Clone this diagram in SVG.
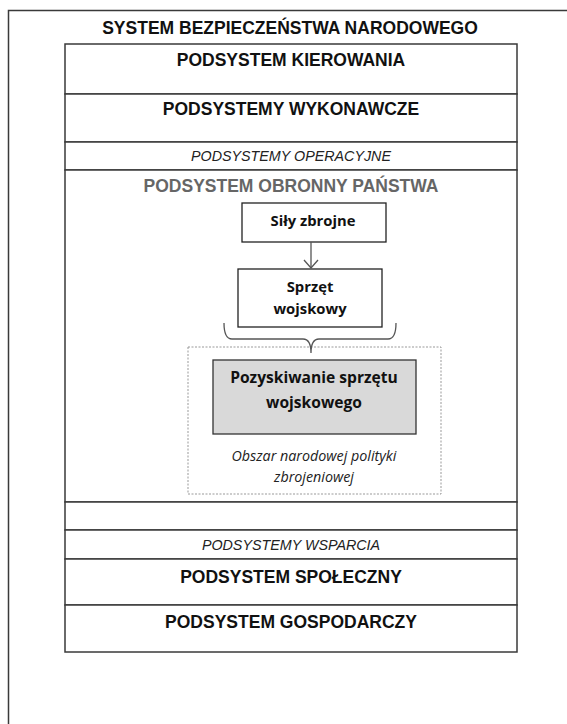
<svg xmlns="http://www.w3.org/2000/svg" width="567" height="724" viewBox="0 0 567 724">
<style>
.frame{fill:none;stroke:#3a3a3a;stroke-width:1.5}
.row{fill:#fff;stroke:#3a3a3a;stroke-width:1.5}
.box{fill:#fff;stroke:#222;stroke-width:1.3}
.hd{font-family:"Liberation Sans",Arial,sans-serif;font-weight:bold;fill:#111;text-anchor:middle;font-size:17.5px}
.it{font-family:"Liberation Sans",Arial,sans-serif;font-style:italic;fill:#222;text-anchor:middle;font-size:14.3px}
.cb{font-family:"Open Sans","Noto Sans",sans-serif;font-weight:bold;fill:#111;text-anchor:middle}
.ci{font-family:"Open Sans","Noto Sans",sans-serif;font-style:italic;fill:#222;text-anchor:middle;font-size:14.3px}
.conn{fill:none;stroke:#555;stroke-width:1.3}
</style>
<rect width="567" height="724" fill="#fff"/>
<g id="system">
<path class="frame" d="M8.5,740 V10.5 H580"/>
<text class="hd" x="290" y="33.5">SYSTEM BEZPIECZEŃSTWA NARODOWEGO</text>
</g>
<g id="kierowania">
<rect class="row" x="65" y="44" width="452" height="50"/>
<text class="hd" x="291" y="66">PODSYSTEM KIEROWANIA</text>
</g>
<g id="wykonawcze">
<rect class="row" x="65" y="94" width="452" height="48"/>
<text class="hd" x="291" y="115">PODSYSTEMY WYKONAWCZE</text>
</g>
<g id="operacyjne">
<rect class="row" x="65" y="142" width="452" height="28"/>
<text class="it" x="291" y="161">PODSYSTEMY OPERACYJNE</text>
</g>
<g id="obronny">
<rect class="row" x="65" y="170" width="452" height="332"/>
<text class="hd" x="291" y="192" style="fill:#666">PODSYSTEM OBRONNY PAŃSTWA</text>
</g>
<g id="obszar">
<rect x="188" y="347" width="253" height="147" fill="none" stroke="#999" stroke-width="1" stroke-dasharray="2,1.5"/>
<text class="ci" x="314" y="461">Obszar narodowej polityki</text>
<text class="ci" x="314" y="482">zbrojeniowej</text>
</g>
<g id="sily">
<rect class="box" x="242" y="203" width="144" height="39"/>
<text class="cb" x="313" y="225.5" font-size="14.8">Siły zbrojne</text>
</g>
<g id="sprzet">
<rect class="box" x="238" y="269" width="144" height="58"/>
<text class="cb" x="310" y="292" font-size="14.8">Sprzęt</text>
<text class="cb" x="310" y="314" font-size="14.8">wojskowy</text>
</g>
<g id="pozyskiwanie">
<rect x="213" y="360" width="203" height="74" fill="#d9d9d9" stroke="#333" stroke-width="1.3"/>
<text class="cb" x="314" y="383" font-size="15.6">Pozyskiwanie sprzętu</text>
<text class="cb" x="314" y="408" font-size="15.6">wojskowego</text>
</g>
<g id="empty">
<rect class="row" x="65" y="502" width="452" height="28"/>
</g>
<g id="wsparcia">
<rect class="row" x="65" y="530" width="452" height="29"/>
<text class="it" x="291" y="549.5">PODSYSTEMY WSPARCIA</text>
</g>
<g id="spoleczny">
<rect class="row" x="65" y="559" width="452" height="46"/>
<text class="hd" x="291" y="583">PODSYSTEM SPOŁECZNY</text>
</g>
<g id="gospodarczy">
<rect class="row" x="65" y="605" width="452" height="47"/>
<text class="hd" x="291" y="628">PODSYSTEM GOSPODARCZY</text>
</g>
<g id="connectors">
<path class="conn" d="M311,242 V268"/>
<path class="conn" d="M304,260 L311,268 L318,260"/>
<path class="conn" d="M224,323 Q224,339 232,339 H303 Q311,339 311,353 Q311,339 319,339 H388 Q396,339 396,323"/>
</g>
</svg>
